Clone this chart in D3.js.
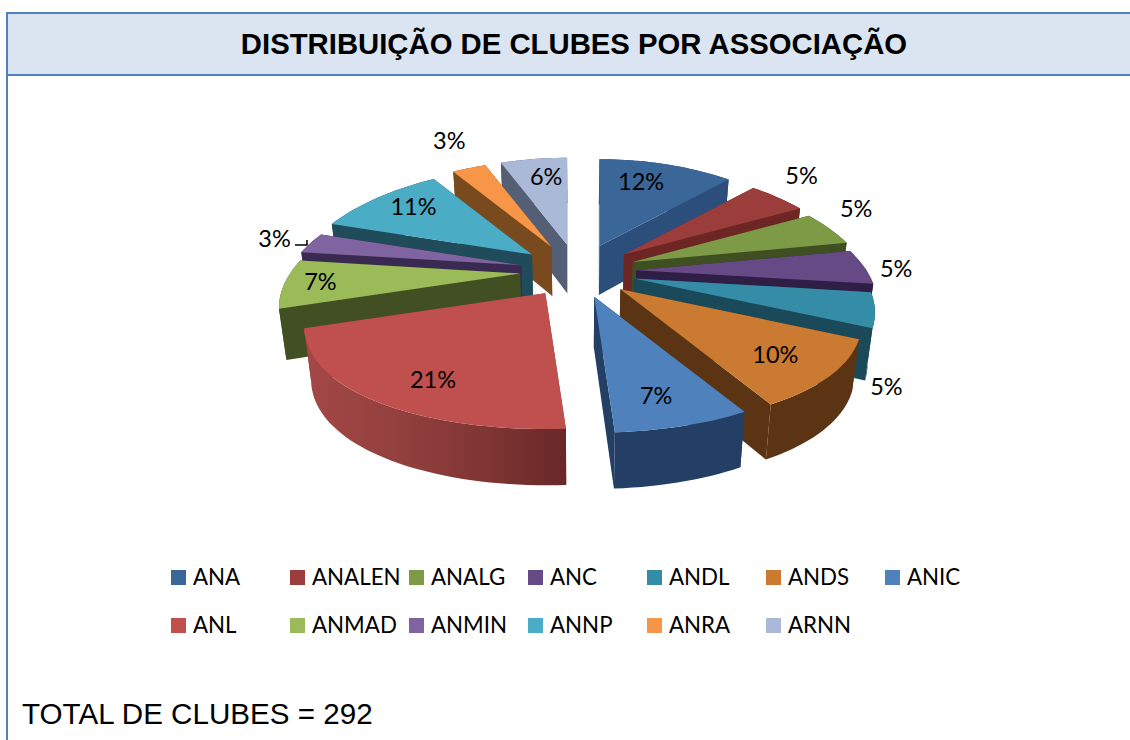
<!DOCTYPE html>
<html>
<head>
<meta charset="utf-8">
<script src="https://cdn.jsdelivr.net/npm/d3@7"></script>
<style>
  html, body { margin: 0; padding: 0; background: #fff; overflow: hidden; }
  svg { display: block; }
</style>
</head>
<body>
<div id="chart"></div>
<script>
// Chart data
const associations = ["ANA", "ANALEN", "ANALG", "ANC", "ANDL", "ANDS", "ANIC", "ANL", "ANMAD", "ANMIN", "ANNP", "ANRA", "ARNN"];
const shares = [12, 5, 5, 5, 5, 10, 7, 21, 7, 3, 11, 3, 6];
const colors = ["#3B6698", "#9B3D3B", "#7D9A46", "#664A85", "#358CA6", "#CB7A32", "#4F81BD", "#C0504D", "#9BBB59", "#8064A2", "#4BACC6", "#F79646", "#AAB9D7"];
const wallColors = ["#2B4E7A", "#6E2624", "#3F4F22", "#2F1F47", "#1A4A5A", "#5A3413", "#243F66", "#7A3130", "#414F23", "#3A2A52", "#1F4B5A", "#7A4A1F", "#545E75"];
const totalClubes = 292;

const width = 1130, height = 740;
const svg = d3.select("#chart").append("svg")
    .attr("width", width)
    .attr("height", height);

// Frame and title band
const frameColor = "#4F81BD";
svg.append("rect")
    .attr("x", 7).attr("y", 13).attr("width", width - 7).attr("height", 62)
    .attr("fill", "#DBE5F1");
svg.append("path")
    .attr("d", `M${width},13H7V${height}M7,75H${width}`)
    .attr("fill", "none")
    .attr("stroke", frameColor)
    .attr("stroke-width", 2);
svg.append("text")
    .attr("x", 574).attr("y", 54)
    .attr("text-anchor", "middle")
    .style("font", "bold 29.3px 'Liberation Sans', Arial, sans-serif")
    .text("DISTRIBUIÇÃO DE CLUBES POR ASSOCIAÇÃO");
svg.append("text")
    .attr("x", 22).attr("y", 724)
    .style("font", "29.6px 'Liberation Sans', Arial, sans-serif")
    .text(`TOTAL DE CLUBES = ${totalClubes}`);

// 3D pie projection
const cx = 578, cy = 271;
const x = d3.scaleLinear().domain([-1, 1]).range([cx - 230, cx + 230]);
const y = d3.scaleLinear().domain([-1, 1]).range([cy + 106, cy - 106]);
const perspectiveX = 0.30, perspectiveY = 0.22, explode = 0.253;
const color = d3.scaleOrdinal().domain(associations).range(colors);
const wallColor = d3.scaleOrdinal().domain(associations).range(wallColors);
const pie = d3.pie().sort(null).value(d => d.share);
const slices = pie(associations.map((name, i) => ({ name, share: shares[i] })));
const line = d3.line();

function bisector(s) { return (s.startAngle + s.endAngle) / 2; }

// point of a slice top: angle a, f = fraction of the radius
function point(s, a, f) {
    const b = bisector(s);
    const kx = 1 / (1 + perspectiveX * Math.cos(a));
    const ky = 1 / (1 + perspectiveY * Math.cos(a));
    return [x(explode * Math.sin(b) + f * kx * Math.sin(a)),
            y(explode * Math.cos(b) + f * ky * Math.cos(a))];
}

// same point pushed down to the bottom of the slice
function lower(p) {
    const depth = 51 + (p[1] - 300) * 0.04;
    return [cx + (p[0] - cx) * 0.975, p[1] + depth];
}

function arcAngles(s) {
    const steps = Math.max(2, Math.ceil((s.endAngle - s.startAngle) / 0.03));
    return d3.range(steps + 1).map(i => s.startAngle + (s.endAngle - s.startAngle) * i / steps);
}

// The big red slice has a lit wall, lighter on the left
const defs = svg.append("defs");
const litWall = defs.append("linearGradient").attr("id", "litWall");
[[0, "#A44846"], [0.35, "#93403E"], [0.7, "#7F3533"], [1, "#692828"]].forEach(([o, c]) => {
    litWall.append("stop").attr("offset", o).attr("stop-color", c);
});

const order = slices.slice().sort((a, b) => Math.cos(bisector(b)) - Math.cos(bisector(a)));
const pieG = svg.append("g");

order.forEach(s => {
    const name = s.data.name;
    const apex = point(s, 0, 0);
    const angles = arcAngles(s);
    const g = pieG.append("g");

    function arcWall(list, fill) {
        if (list.length < 2) return;
        const top = list.map(a => point(s, a, 1));
        g.append("path")
            .attr("d", line(top.concat(top.map(lower).reverse())) + "Z")
            .attr("fill", fill);
    }

    // back part of the round wall, then flat walls, then front part, then top
    arcWall(angles.filter(a => Math.cos(a) > -0.02), wallColor(name));
    [s.startAngle, s.endAngle].forEach(a => {
        const p = point(s, a, 1);
        g.append("path")
            .attr("d", line([apex, p, lower(p), lower(apex)]) + "Z")
            .attr("fill", wallColor(name));
    });
    arcWall(angles.filter(a => Math.cos(a) < 0.02), name === "ANL" ? "url(#litWall)" : wallColor(name));
    g.append("path")
        .attr("d", line([apex].concat(angles.map(a => point(s, a, 1)))) + "Z")
        .attr("fill", color(name));
});

// Percent labels: default spot on the slice, moved by hand like in the original
const labelNudge = {
    ANA: [-6, -6], ANALEN: [67, -38], ANALG: [82, -29], ANC: [96, 1], ANDL: [79, 85],
    ANDS: [3, 4], ANIC: [-3, 5.5], ANL: [11.5, 8.7], ANMAD: [-30, 1], ANMIN: [-95, -11],
    ANNP: [-8, -6.5], ANRA: [-43, -49.5], ARNN: [3, -6]
};
svg.append("g").selectAll("text")
    .data(slices)
    .enter().append("text")
        .attr("x", d => point(d, bisector(d), 0.72)[0] + labelNudge[d.data.name][0])
        .attr("y", d => point(d, bisector(d), 0.72)[1] + labelNudge[d.data.name][1])
        .attr("dy", "0.36em")
        .attr("text-anchor", "middle")
        .style("font", "23.5px Lato, sans-serif")
        .text(d => d.data.share + "%");

// Leader line of the ANMIN label
svg.append("path")
    .attr("d", "M295,245H307V240")
    .attr("fill", "none")
    .attr("stroke", "#000")
    .attr("stroke-width", 1.5);

// Legend, two rows of seven
const legend = svg.append("g").selectAll("g")
    .data(associations)
    .enter().append("g")
        .attr("transform", (d, i) => `translate(${171 + (i % 7) * 119},${570 + Math.floor(i / 7) * 48})`);
legend.append("rect")
    .attr("width", 15).attr("height", 15)
    .attr("fill", d => color(d));
legend.append("text")
    .attr("x", 22).attr("y", 15)
    .style("font", "22.3px Lato, sans-serif")
    .text(d => d);
</script>
</body>
</html>
